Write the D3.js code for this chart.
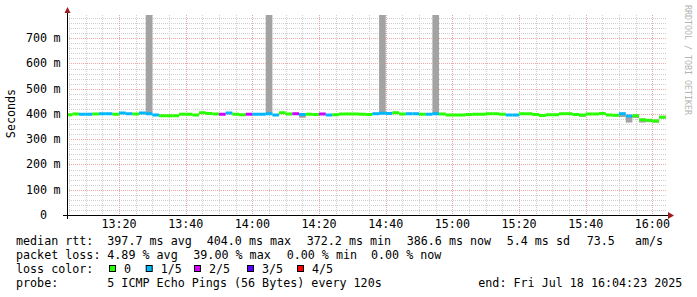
<!DOCTYPE html>
<html>
<head>
<meta charset="utf-8">
<script src="https://cdn.jsdelivr.net/npm/d3@7"></script>
<style>
body { margin: 0; background: #fff; }
text { font-family: "DejaVu Sans Mono", monospace; white-space: pre; }
</style>
</head>
<body>
<div id="chart"></div>
<script>
// 120s steps, first one starts at 13:04 (clipped at the left edge)
const firstStep = new Date(2025, 6, 18, 13, 4, 0);
const stepMinutes = 2;

const medianMs = [397,400,399,399,400,401,401,399,404,401,
    400,404,401,396,393,393,393,399,399,396,
    405,402,400,399,404,399,397,399,399,399,
    401,396,405,400,401,398,399,398,400,396,
    397,400,400,400,399,398,401,403,402,405,
    400,401,401,399,399,401,400,396,396,396,
    398,399,399,401,401,399,396,396,401,401,
    398,394,397,397,401,401,398,396,400,400,
    402,396,395,401,392,393,377,375,372,387];

const lossCount = [0,0,1,1,0,1,1,0,1,1,
    0,1,1,1,0,0,0,0,0,0,
    0,0,0,2,1,0,0,2,1,1,
    1,1,0,0,2,1,0,0,2,1,
    0,0,0,0,0,0,1,1,1,0,
    0,1,1,0,1,1,0,0,0,0,
    0,0,0,0,0,0,1,1,0,0,
    0,0,0,0,0,0,0,0,0,0,
    0,0,0,1,1,0,0,0,0,0];

const smokeLo = [392,398,397,397,398,399,399,397,401,399,
    398,401,398,394,391,391,391,397,397,394,
    402,399,398,397,401,397,395,397,397,397,
    398,394,402,398,399,385,397,396,398,394,
    395,398,398,398,397,396,399,400,400,402,
    398,399,399,397,397,398,396,394,394,394,
    396,397,397,399,399,397,394,394,399,399,
    394,391,395,395,399,399,396,389,398,398,
    400,394,391,388,366,384,366,368,366,383];

const smokeHi = [399,402,403,404,402,403,403,401,406,403,
    402,406,900,398,395,395,395,402,401,398,
    407,404,402,401,406,403,399,401,401,401,
    900,398,407,402,403,400,401,400,402,398,
    399,402,402,402,401,400,403,900,404,407,
    402,403,403,401,404,900,402,398,398,398,
    400,401,401,404,404,401,399,399,404,404,
    400,396,399,399,404,404,400,398,402,402,
    404,398,397,405,394,397,382,380,378,393];

const yTicks = [0, 100, 200, 300, 400, 500, 600, 700];
const lossColors = ["#26ff00", "#00b8ff", "#d400ff", "#5a00ff", "#ff0000"];
const lossLabels = ["0", "1/5", "2/5", "3/5", "4/5"];

const legendRows = [
    [[16, "median rtt:"], [107.3, "397.7 ms avg"], [206.7, "404.0 ms max"], [306.7, "372.2 ms min"],
     [406.7, "386.6 ms now"], [506.7, "5.4 ms sd"], [586.7, "73.5"], [635, "am/s"]],
    [[16, "packet loss:"], [107.3, "4.89 % avg"], [193.3, "39.00 % max"], [286.7, "0.00 % min"], [371, "0.00 % now"]],
    [[16, "loss color:"]],
    [[16, "probe:"], [107.3, "5 ICMP Echo Pings (56 Bytes) every 120s"], [478.3, "end: Fri Jul 18 16:04:23 2025"]]
];
const legendBoxX = [109, 145.7, 194, 247, 297];
const legendLabelX = [124, 160.7, 209, 262, 312];

const W = 697, H = 297;
const plot = {left: 67, right: 667, top: 15, bottom: 215};

const svg = d3.select("#chart").append("svg")
    .attr("width", W).attr("height", H);

const x = d3.scaleTime()
    .domain([new Date(2025, 6, 18, 13, 4, 23), new Date(2025, 6, 18, 16, 4, 23)])
    .range([plot.left, plot.right]);
const y = d3.scaleLinear().domain([0, 792]).range([plot.bottom, plot.top]);

// grid
const grid = svg.append("g");
const minorT = d3.timeMinute.every(5).range(...x.domain()).filter(t => t.getMinutes() % 20 != 0);
const majorT = d3.timeMinute.every(20).range(...x.domain());
grid.selectAll(".vmin").data(minorT).enter().append("line")
    .attr("x1", d => Math.round(x(d)) + 0.5).attr("x2", d => Math.round(x(d)) + 0.5)
    .attr("y1", plot.top).attr("y2", plot.bottom)
    .attr("stroke", "#cfcfcf").attr("stroke-dasharray", "1,1");
const minorV = d3.range(20, 792, 20).filter(v => v % 100 != 0);
grid.selectAll(".hmin").data(minorV).enter().append("line")
    .attr("x1", plot.left).attr("x2", plot.right)
    .attr("y1", d => Math.round(y(d)) + 0.5).attr("y2", d => Math.round(y(d)) + 0.5)
    .attr("stroke", "#cfcfcf").attr("stroke-dasharray", "1,1");
grid.selectAll(".vmaj").data(majorT).enter().append("line")
    .attr("x1", d => Math.round(x(d)) + 0.5).attr("x2", d => Math.round(x(d)) + 0.5)
    .attr("y1", plot.top).attr("y2", plot.bottom)
    .attr("stroke", "#eda5a5").attr("stroke-dasharray", "1,1");
grid.selectAll(".hmaj").data(yTicks.slice(1)).enter().append("line")
    .attr("x1", plot.left).attr("x2", plot.right)
    .attr("y1", d => Math.round(y(d)) + 0.5).attr("y2", d => Math.round(y(d)) + 0.5)
    .attr("stroke", "#eda5a5").attr("stroke-dasharray", "1,1");

// data
const data = medianMs.map((m, i) => ({
    t0: new Date(firstStep.getTime() + i * stepMinutes * 60000),
    t1: new Date(firstStep.getTime() + (i + 1) * stepMinutes * 60000),
    med: m, loss: lossCount[i], lo: smokeLo[i], hi: smokeHi[i]
}));

svg.append("clipPath").attr("id", "clip").append("rect")
    .attr("x", plot.left + 1).attr("y", plot.top)
    .attr("width", plot.right - plot.left).attr("height", plot.bottom - plot.top);

const g = svg.append("g").attr("clip-path", "url(#clip)");
g.selectAll(".smoke").data(data).enter().append("rect")
    .attr("x", d => x(d.t0)).attr("width", d => x(d.t1) - x(d.t0))
    .attr("y", d => y(d.hi)).attr("height", d => Math.max(1, y(d.lo) - y(d.hi)))
    .attr("fill", "#a3a3a3");
g.selectAll(".med").data(data).enter().append("rect")
    .attr("x", d => x(d.t0)).attr("width", d => x(d.t1) - x(d.t0))
    .attr("y", d => y(d.med) - 1.5).attr("height", 3)
    .attr("fill", d => lossColors[d.loss]);

// axes
svg.append("line").attr("x1", 63).attr("x2", 670).attr("y1", 215.5).attr("y2", 215.5)
    .attr("stroke", "#000");
svg.append("line").attr("x1", 67.5).attr("x2", 67.5).attr("y1", 219).attr("y2", 12)
    .attr("stroke", "#000");
svg.append("path").attr("d", "M668,212L674,215.5L668,219Z").attr("fill", "#9b1c1c");
svg.append("path").attr("d", "M64.5,13L67.5,7L70.5,13Z").attr("fill", "#9b1c1c");

svg.selectAll(".xl").data(majorT).enter().append("text")
    .attr("x", d => x(d)).attr("y", 228).attr("text-anchor", "middle")
    .attr("font-size", "11.7px").attr("fill", "#000")
    .text(d3.timeFormat("%H:%M"));

svg.selectAll(".yl").data(yTicks).enter().append("text")
    .attr("x", 47).attr("y", d => y(d) + 4).attr("text-anchor", "end")
    .attr("font-size", "11.7px").attr("fill", "#000")
    .text(d => d);
svg.selectAll(".yu").data(yTicks.filter(d => d > 0)).enter().append("text")
    .attr("x", 53.5).attr("y", d => y(d) + 4)
    .attr("font-size", "11.7px").attr("fill", "#000")
    .text("m");

svg.append("text").attr("transform", "translate(15,113.5) rotate(-90)")
    .attr("text-anchor", "middle").attr("font-size", "11.7px").attr("fill", "#000")
    .text("Seconds");

svg.append("text").attr("transform", "translate(685,5) rotate(90)")
    .attr("font-size", "8.3px").attr("fill", "#b4b4b4")
    .text("RRDTOOL / TOBI OETIKER");

// legend
const rowBase = [245, 259, 273, 287];
legendRows.forEach((row, r) => {
    row.forEach(([px, s]) => {
        svg.append("text").attr("x", px).attr("y", rowBase[r])
            .attr("font-size", "11.7px").attr("fill", "#000").text(s);
    });
});
lossColors.forEach((c, i) => {
    svg.append("rect").attr("x", legendBoxX[i] + 0.5).attr("y", 265.5)
        .attr("width", 6).attr("height", 6)
        .attr("fill", c).attr("stroke", "#000");
    svg.append("text").attr("x", legendLabelX[i]).attr("y", rowBase[2])
        .attr("font-size", "11.7px").attr("fill", "#000").text(lossLabels[i]);
});
</script>
</body>
</html>
